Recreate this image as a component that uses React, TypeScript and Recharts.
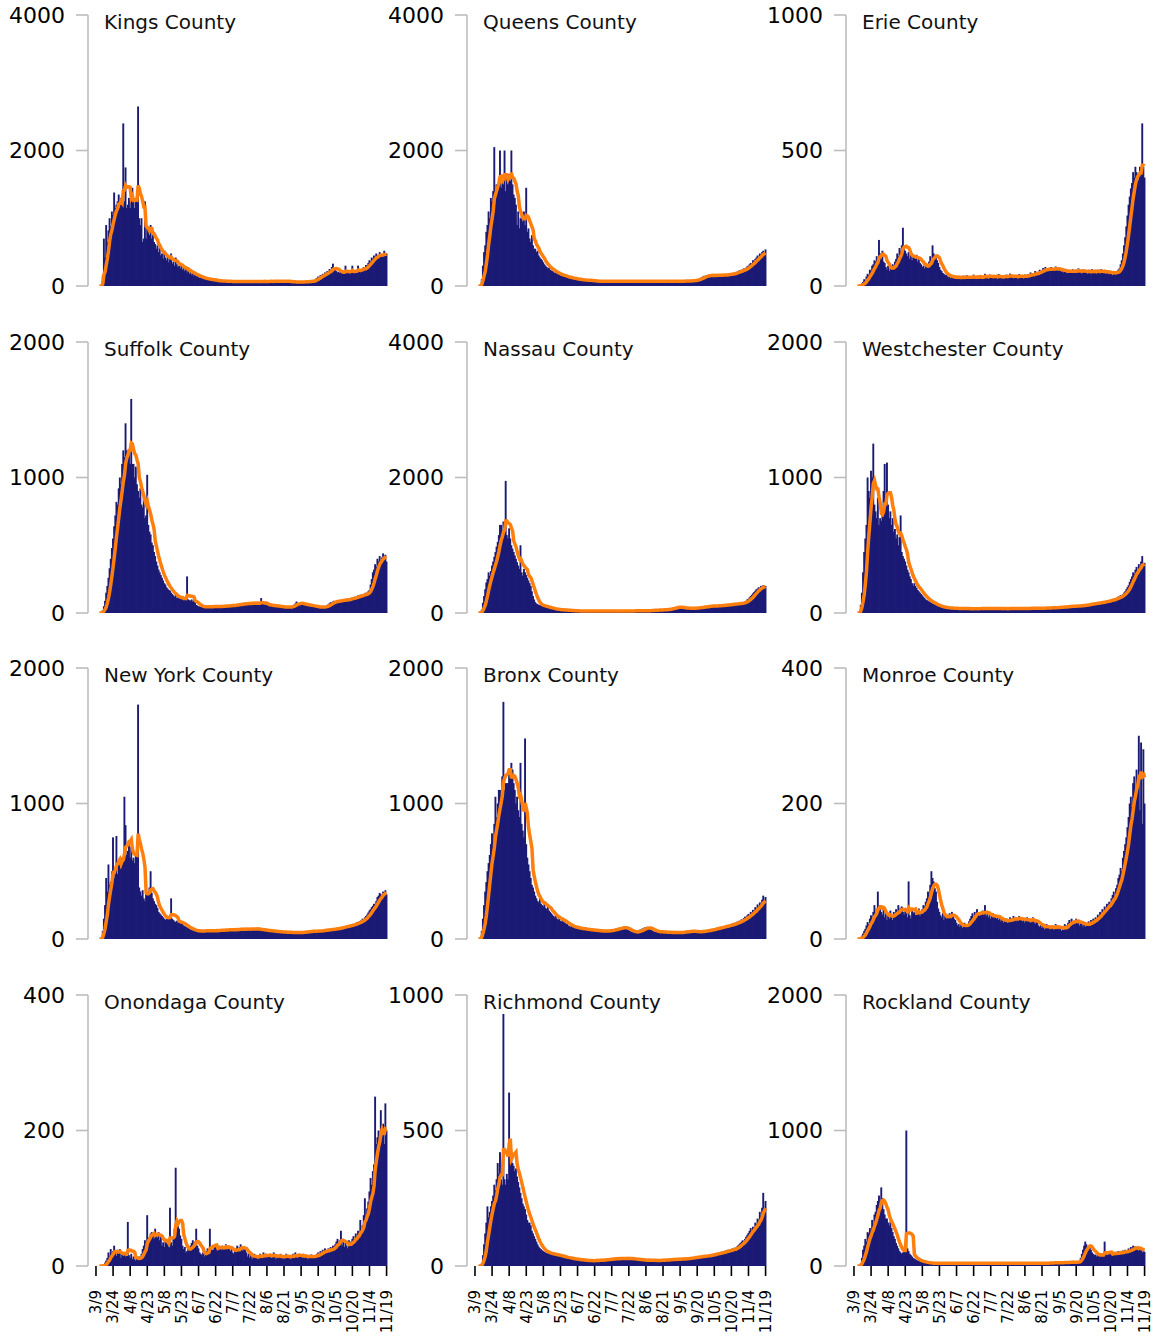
import React from 'react';
import { ComposedChart, Bar, Line, XAxis, YAxis } from 'recharts';

// ---------- labels & meta ----------
const axisStartDate = '3/2';
const firstDataDate = '3/12';
const xTickLabels = ['3/9', '3/24', '4/8', '4/23', '5/8', '5/23', '6/7', '6/22', '7/7', '7/22', '8/6', '8/21', '9/5', '9/20', '10/5', '10/20', '11/4', '11/19'];
const axisEndDate = '11/22';

const countyNames = [
  'Kings County', 'Queens County', 'Erie County',
  'Suffolk County', 'Nassau County', 'Westchester County',
  'New York County', 'Bronx County', 'Monroe County',
  'Onondaga County', 'Richmond County', 'Rockland County',
];
const yMaxima = [4000, 4000, 1000, 2000, 4000, 2000, 2000, 2000, 400, 400, 1000, 2000];

// ---------- daily new cases, 3/12 .. 11/19 ----------
const kings = [
  0, 0, 0, 150, 700, 420, 900, 650, 820, 1000,
  880, 1100, 1050, 1380, 1150, 1200, 1250, 1350, 1150, 1300,
  1200, 2400, 1250, 1750, 1150, 1200, 1300, 1150, 1280, 1450,
  1300, 1150, 1300, 1250, 2650, 1000, 900, 1000, 650, 700,
  1250, 700, 850, 800, 750, 900, 700, 750, 650, 620,
  550, 600, 500, 560, 450, 480, 400, 520, 420, 380,
  450, 350, 400, 480, 330, 360, 300, 420, 320, 280,
  300, 260, 330, 240, 290, 220, 250, 200, 260, 180,
  210, 170, 190, 150, 180, 140, 160, 130, 120, 140,
  110, 120, 100, 115, 95, 105, 90, 100, 85, 95,
  80, 90, 75, 85, 70, 80, 65, 75, 70, 80,
  65, 75, 70, 60, 75, 65, 70, 60, 72, 68,
  60, 70, 65, 75, 60, 68, 72, 62, 70, 65,
  70, 62, 75, 68, 60, 72, 65, 70, 60, 68,
  72, 65, 70, 62, 75, 68, 60, 70, 65, 72,
  68, 75, 62, 70, 80, 65, 72, 68, 75, 62,
  70, 80, 72, 65, 75, 60, 68, 62, 58, 65,
  55, 62, 58, 65, 52, 60, 55, 62, 58, 65,
  60, 68, 62, 70, 65, 72, 68, 75, 80, 90,
  110, 120, 140, 130, 160, 150, 180, 170, 200, 190,
  220, 210, 250, 230, 280, 330, 250, 240, 220, 200,
  210, 190, 230, 200, 180, 220, 300, 190, 210, 200,
  180, 220, 300, 200, 190, 230, 210, 300, 220, 240,
  250, 230, 280, 260, 310, 300, 340, 380, 360, 420,
  400, 450, 420, 480, 430, 460, 500, 440, 470, 430,
  520, 450, 480,
];

const queens = [
  0, 0, 0, 100, 300, 500, 600, 800, 900, 1100,
  1000, 1300, 1250, 1400, 2050, 1350, 1500, 1400, 1600, 2000,
  1450, 1550, 1500, 2000, 1400, 1600, 1500, 1650, 1550, 2000,
  1500, 1350, 1300, 1200, 900, 1100, 850, 1000, 1050, 950,
  1100, 900, 1450, 800, 850, 700, 650, 750, 600, 550,
  550, 500, 520, 450, 420, 400, 380, 350, 320, 300,
  280, 260, 270, 240, 230, 220, 210, 190, 200, 180,
  170, 175, 155, 160, 145, 150, 135, 140, 125, 120,
  120, 115, 118, 108, 110, 100, 104, 95, 98, 90,
  92, 88, 85, 90, 84, 80, 86, 82, 78, 84,
  72, 75, 68, 74, 70, 72, 66, 75, 70, 68,
  72, 68, 75, 70, 66, 74, 70, 72, 68, 75,
  70, 66, 72, 68, 74, 70, 65, 72, 70, 68,
  74, 70, 66, 72, 68, 75, 70, 67, 72, 70,
  68, 74, 70, 65, 72, 70, 68, 75, 70, 66,
  72, 70, 68, 74, 70, 66, 72, 68, 70, 74,
  70, 66, 72, 70, 68, 75, 70, 65, 72, 70,
  68, 74, 70, 66, 72, 70, 68, 75, 72, 70,
  74, 70, 76, 72, 78, 75, 80, 76, 82, 80,
  85, 90, 95, 100, 110, 120, 130, 140, 150, 145,
  160, 150, 165, 140, 170, 155, 160, 145, 175, 150,
  160, 155, 170, 150, 165, 160, 175, 155, 170, 165,
  180, 170, 190, 175, 185, 200, 195, 210, 220, 230,
  220, 240, 230, 260, 250, 270, 290, 300, 320, 340,
  330, 380, 360, 400, 420, 450, 430, 480, 460, 500,
  520, 480, 540,
];

const erie = [
  0, 0, 0, 5, 10, 15, 25, 20, 35, 45,
  40, 60, 55, 75, 80, 95, 90, 110, 100, 170,
  120, 100, 130, 90, 85, 70, 60, 75, 55, 65,
  60, 80, 70, 90, 100, 120, 110, 140, 130, 150,
  215, 140, 130, 120, 110, 125, 100, 115, 95, 110,
  110, 100, 115, 90, 105, 85, 80, 70, 75, 65,
  80, 70, 75, 90, 110, 95, 150, 120, 100, 110,
  95, 85, 70, 60, 55, 48, 45, 40, 42, 36,
  32, 40, 28, 35, 30, 38, 26, 34, 30, 36,
  28, 35, 30, 38, 25, 32, 40, 28, 34, 30,
  36, 28, 42, 30, 34, 26, 38, 32, 40, 28,
  35, 30, 45, 32, 38, 28, 42, 34, 30, 36,
  40, 32, 36, 28, 44, 34, 30, 38, 26, 40,
  35, 42, 30, 38, 46, 32, 36, 28, 40, 34,
  38, 30, 44, 36, 32, 40, 28, 42, 34, 38,
  44, 36, 50, 40, 46, 38, 55, 45, 52, 48,
  60, 50, 58, 66, 55, 70, 62, 58, 65, 55,
  70, 60, 66, 58, 72, 62, 55, 68, 60, 52,
  58, 50, 62, 54, 48, 60, 52, 56, 50, 62,
  55, 48, 60, 52, 65, 50, 58, 46, 62, 54,
  50, 58, 45, 60, 52, 48, 62, 55, 50, 58,
  46, 60, 54, 50, 62, 48, 56, 52, 45, 58,
  50, 44, 56, 48, 40, 52, 46, 55, 50, 60,
  65, 80, 95, 120, 150, 180, 220, 260, 300, 330,
  360, 380, 420, 400, 440, 420, 410, 390, 440, 420,
  600, 440, 400,
];

const suffolk = [
  0, 0, 0, 20, 50, 90, 150, 200, 260, 330,
  400, 480, 550, 640, 720, 820, 800, 920, 1000, 950,
  1100, 1200, 1150, 1400, 1200, 1150, 1200, 1100, 1580, 1100,
  1100, 1000, 1080, 950, 900, 850, 920, 800, 780, 850,
  700, 720, 1020, 650, 600, 580, 520, 500, 450, 420,
  380, 350, 320, 300, 280, 260, 240, 220, 210, 190,
  180, 170, 165, 150, 140, 130, 120, 135, 110, 115,
  105, 110, 100, 120, 95, 110, 105, 270, 100, 95,
  90, 100, 85, 95, 80, 60, 55, 50, 48, 45,
  50, 44, 48, 42, 46, 50, 44, 48, 45, 50,
  46, 52, 48, 44, 50, 46, 52, 48, 50, 55,
  48, 52, 56, 50, 54, 58, 52, 60, 55, 62,
  58, 64, 60, 66, 70, 62, 68, 75, 65, 72,
  70, 78, 66, 74, 70, 80, 68, 76, 72, 70,
  68, 74, 110, 66, 70, 64, 60, 58, 62, 55,
  58, 52, 56, 50, 54, 48, 52, 46, 50, 44,
  48, 42, 46, 40, 44, 42, 48, 44, 50, 46,
  55, 62, 70, 85, 75, 68, 72, 66, 70, 62,
  60, 64, 58, 55, 60, 52, 56, 50, 48, 46,
  44, 48, 42, 46, 40, 44, 48, 42, 46, 50,
  58, 65, 72, 80, 75, 85, 90, 82, 88, 92,
  86, 95, 90, 98, 92, 100, 94, 105, 98, 102,
  110, 104, 115, 108, 120, 112, 125, 130, 122, 135,
  128, 140, 132, 145, 150, 138, 160, 170, 210, 250,
  300, 320, 360, 340, 400, 380, 420, 390, 410, 440,
  400, 430, 380,
];

const nassau = [
  0, 0, 0, 50, 150, 250, 350, 450, 500, 600,
  550, 620, 700, 760, 830, 900, 980, 1050, 1150, 1300,
  1300, 1200, 1350, 1250, 1950, 1150, 1100, 1250, 1100, 1000,
  950, 900, 850, 800, 750, 700, 650, 1000, 600, 550,
  650, 600, 560, 520, 480, 440, 400, 320, 250, 200,
  160, 140, 130, 120, 115, 110, 105, 100, 95, 90,
  85, 80, 75, 72, 68, 64, 60, 56, 52, 50,
  48, 46, 50, 44, 42, 45, 40, 38, 42, 36,
  38, 34, 36, 32, 34, 30, 32, 28, 30, 28,
  30, 28, 32, 26, 30, 28, 32, 30, 26, 28,
  30, 32, 28, 26, 30, 28, 32, 30, 28, 26,
  30, 28, 32, 30, 26, 28, 30, 32, 28, 30,
  28, 32, 30, 26, 30, 28, 32, 30, 28, 34,
  30, 28, 32, 30, 34, 28, 32, 30, 36, 32,
  34, 30, 36, 32, 38, 34, 30, 36, 32, 38,
  34, 40, 36, 42, 38, 44, 40, 46, 42, 48,
  44, 50, 46, 52, 48, 56, 52, 60, 56, 64,
  70, 80, 75, 90, 85, 95, 88, 82, 78, 74,
  70, 76, 72, 68, 74, 70, 66, 72, 68, 75,
  72, 78, 74, 82, 80, 88, 84, 92, 90, 96,
  94, 100, 98, 106, 102, 110, 104, 100, 108, 102,
  106, 112, 108, 116, 110, 118, 114, 122, 118, 126,
  122, 130, 126, 134, 130, 140, 136, 145, 138, 142,
  140, 150, 145, 160, 170, 180, 200, 210, 230, 250,
  270, 290, 310, 330, 350, 360, 380, 370, 400, 390,
  410, 380, 400,
];

const westchester = [
  0, 0, 0, 60, 150, 300, 450, 550, 650, 1000,
  900, 850, 1050, 1000, 1250, 800, 750, 700, 850, 650,
  700, 680, 750, 900, 1100, 850, 1110, 800, 700, 750,
  650, 700, 600, 620, 550, 580, 500, 560, 720, 450,
  420, 400, 380, 350, 320, 300, 270, 250, 220, 200,
  220, 200, 185, 170, 160, 150, 140, 130, 120, 110,
  100, 95, 90, 85, 80, 75, 70, 66, 62, 58,
  52, 50, 48, 46, 44, 42, 40, 38, 40, 36,
  38, 35, 36, 34, 35, 32, 34, 33, 35, 32,
  34, 32, 36, 30, 34, 32, 35, 30, 33, 31,
  34, 30, 32, 35, 31, 33, 30, 34, 32, 36,
  33, 30, 35, 32, 34, 30, 33, 36, 31, 34,
  32, 35, 30, 33, 36, 31, 34, 32, 30, 35,
  33, 31, 34, 30, 35, 32, 34, 31, 33, 36,
  32, 34, 30, 35, 33, 31, 34, 32, 36, 33,
  35, 32, 34, 37, 33, 36, 34, 38, 35, 37,
  34, 37, 33, 36, 38, 35, 39, 36, 40, 37,
  38, 41, 37, 40, 43, 39, 42, 45, 41, 44,
  42, 46, 44, 48, 45, 50, 47, 52, 49, 54,
  48, 52, 50, 54, 51, 56, 53, 58, 55, 60,
  58, 62, 60, 66, 64, 70, 67, 72, 70, 75,
  70, 76, 74, 80, 78, 84, 80, 88, 85, 92,
  88, 95, 92, 100, 104, 98, 110, 106, 115, 120,
  125, 132, 128, 140, 150, 160, 175, 190, 205, 230,
  250, 270, 300, 290, 320, 340, 310, 360, 340, 380,
  420, 350, 370,
];

const newYork = [
  0, 0, 0, 60, 150, 250, 450, 350, 550, 400,
  420, 500, 750, 450, 520, 760, 480, 550, 600, 520,
  600, 580, 1050, 840, 620, 650, 700, 600, 680, 580,
  600, 560, 620, 680, 1730, 380, 350, 320, 360, 300,
  280, 400, 330, 350, 380, 500, 340, 300, 280, 260,
  250, 230, 200, 190, 180, 170, 160, 150, 140, 150,
  160, 170, 180, 300, 150, 140, 130, 125, 135, 120,
  130, 115, 120, 110, 100, 95, 90, 85, 80, 75,
  70, 68, 65, 62, 60, 58, 62, 56, 60, 58,
  62, 58, 60, 64, 58, 62, 60, 66, 62, 58,
  60, 64, 62, 66, 60, 68, 64, 62, 70, 66,
  64, 68, 70, 66, 72, 68, 64, 70, 74, 68,
  72, 68, 74, 70, 76, 72, 68, 74, 78, 72,
  76, 72, 70, 78, 74, 80, 72, 76, 70, 74,
  68, 72, 66, 70, 64, 62, 66, 60, 64, 58,
  62, 56, 60, 54, 58, 52, 56, 50, 54, 52,
  50, 54, 48, 52, 50, 46, 52, 48, 50, 46,
  48, 52, 46, 50, 48, 44, 50, 48, 52, 50,
  54, 50, 56, 52, 58, 54, 60, 56, 62, 58,
  56, 60, 58, 62, 60, 64, 62, 66, 64, 70,
  66, 72, 68, 74, 70, 76, 72, 78, 74, 80,
  80, 86, 82, 90, 88, 94, 92, 98, 95, 102,
  100, 108, 104, 112, 110, 118, 124, 120, 130, 128,
  140, 150, 145, 160, 170, 180, 195, 210, 220, 235,
  245, 260, 255, 280, 310, 320, 340, 330, 320, 350,
  340, 360, 330,
];

const bronx = [
  0, 0, 0, 60, 150, 250, 350, 420, 500, 560,
  620, 700, 780, 720, 850, 1050, 900, 1000, 1100, 1100,
  1050, 1200, 1750, 1100, 1150, 1150, 1150, 1250, 1200, 1300,
  1250, 1150, 1100, 1000, 1050, 950, 900, 1300, 850, 800,
  750, 1480, 700, 600, 550, 500, 450, 400, 380, 350,
  320, 300, 280, 270, 300, 260, 250, 240, 280, 230,
  220, 250, 210, 200, 190, 180, 170, 160, 175, 150,
  140, 160, 135, 130, 145, 125, 120, 110, 115, 100,
  95, 90, 100, 85, 88, 80, 84, 78, 82, 75,
  78, 72, 76, 70, 74, 68, 72, 66, 70, 64,
  68, 62, 66, 60, 64, 58, 62, 56, 60, 58,
  62, 56, 60, 58, 64, 60, 66, 62, 70, 66,
  72, 78, 74, 82, 78, 86, 82, 90, 86, 80,
  76, 70, 65, 60, 55, 50, 52, 48, 54, 50,
  56, 62, 70, 66, 78, 74, 86, 82, 90, 84,
  78, 72, 66, 60, 56, 52, 58, 54, 50, 56,
  52, 48, 54, 50, 46, 52, 48, 50, 46, 52,
  48, 50, 46, 52, 48, 44, 50, 46, 52, 48,
  54, 50, 56, 52, 58, 54, 60, 56, 62, 58,
  50, 54, 48, 56, 52, 58, 54, 60, 56, 64,
  60, 66, 62, 70, 66, 74, 70, 78, 74, 82,
  80, 86, 82, 90, 88, 95, 92, 98, 96, 104,
  100, 108, 104, 115, 110, 120, 116, 128, 124, 135,
  130, 145, 140, 155, 165, 150, 175, 185, 170, 200,
  190, 215, 205, 235, 225, 255, 240, 270, 260, 290,
  320, 280, 310,
];

const monroe = [
  0, 0, 0, 2, 5, 8, 12, 15, 20, 25,
  22, 30, 35, 28, 40, 50, 38, 45, 70, 42,
  48, 40, 36, 45, 32, 38, 28, 34, 30, 42,
  35, 28, 40, 36, 44, 38, 50, 42, 46, 48,
  40, 36, 44, 38, 32, 85, 35, 30, 45, 38,
  40, 36, 42, 38, 45, 34, 40, 44, 50, 48,
  55, 60, 70, 65, 80, 100, 90, 85, 75, 70,
  55, 45, 40, 35, 32, 38, 28, 34, 30, 36,
  32, 38, 34, 40, 36, 30, 28, 24, 20, 22,
  18, 22, 16, 20, 24, 18, 22, 20, 26, 30,
  34, 38, 32, 40, 36, 44, 38, 34, 40, 36,
  42, 36, 50, 34, 38, 32, 36, 30, 34, 38,
  32, 36, 30, 34, 28, 32, 26, 30, 24, 28,
  26, 30, 24, 28, 32, 26, 30, 34, 28, 32,
  26, 30, 34, 28, 32, 26, 30, 24, 28, 32,
  26, 30, 24, 28, 32, 26, 22, 28, 24, 20,
  18, 22, 16, 20, 14, 18, 22, 16, 20, 14,
  16, 20, 14, 18, 22, 16, 20, 14, 18, 12,
  14, 18, 22, 16, 20, 24, 28, 22, 30, 26,
  26, 22, 30, 24, 28, 20, 26, 22, 18, 24,
  18, 24, 20, 26, 22, 28, 24, 30, 26, 32,
  30, 36, 34, 40, 38, 44, 42, 48, 45, 52,
  50, 55, 52, 60, 65, 70, 62, 75, 80, 90,
  95, 105, 100, 120, 130, 140, 150, 165, 180, 200,
  210, 195, 230, 240, 220, 250, 240, 300, 190, 290,
  170, 280, 200,
];

const onondaga = [
  0, 0, 0, 0, 2, 5, 8, 12, 20, 15,
  25, 18, 22, 30, 20, 15, 22, 18, 25, 12,
  20, 15, 18, 14, 18, 65, 16, 12, 18, 10,
  14, 10, 8, 12, 10, 14, 12, 18, 25, 30,
  38, 30, 75, 42, 36, 48, 50, 45, 40, 55,
  48, 42, 50, 38, 45, 30, 35, 28, 40, 40,
  32, 28, 86, 35, 30, 40, 55, 145, 70, 60,
  55, 45, 40, 30, 25, 28, 20, 22, 26, 24,
  30, 34, 38, 32, 36, 55, 30, 26, 20, 18,
  16, 20, 14, 18, 22, 26, 24, 55, 28, 24,
  24, 28, 32, 26, 22, 30, 28, 24, 30, 26,
  28, 32, 24, 30, 26, 22, 28, 20, 18, 22,
  26, 30, 24, 28, 32, 26, 22, 28, 24, 20,
  14, 18, 12, 16, 10, 14, 18, 12, 16, 10,
  14, 18, 12, 16, 20, 14, 18, 12, 16, 14,
  18, 12, 16, 20, 14, 10, 16, 12, 14, 18,
  12, 16, 10, 14, 18, 12, 16, 14, 10, 15,
  18, 14, 20, 16, 12, 18, 14, 16, 12, 18,
  12, 16, 14, 10, 15, 13, 17, 12, 16, 14,
  14, 18, 20, 16, 22, 18, 24, 20, 26, 22,
  22, 26, 20, 28, 24, 30, 26, 32, 36, 40,
  34, 38, 52, 30, 36, 28, 34, 30, 26, 38,
  32, 36, 40, 44, 38, 48, 42, 52, 46, 68,
  55, 60, 75, 100, 70, 85, 95, 110, 130, 120,
  140, 150, 250, 180, 190, 200, 170, 230, 190, 210,
  180, 240, 200,
];

const richmond = [
  0, 0, 0, 10, 40, 80, 120, 160, 220, 180,
  200, 220, 240, 260, 300, 280, 320, 380, 340, 420,
  320, 300, 930, 320, 300, 340, 320, 640, 440, 400,
  380, 370, 350, 360, 330, 310, 290, 270, 250, 230,
  220, 210, 190, 170, 160, 160, 150, 130, 120, 110,
  100, 90, 80, 72, 66, 62, 58, 55, 52, 50,
  48, 46, 50, 44, 42, 46, 40, 44, 38, 42,
  40, 36, 38, 34, 32, 35, 30, 33, 28, 30,
  28, 26, 30, 24, 27, 25, 22, 26, 24, 21,
  23, 20, 24, 19, 22, 18, 21, 20, 17, 22,
  19, 21, 18, 23, 20, 22, 19, 24, 21, 23,
  22, 25, 21, 26, 23, 27, 24, 28, 25, 29,
  26, 30, 27, 28, 25, 31, 28, 26, 30, 27,
  29, 26, 30, 27, 25, 28, 24, 27, 23, 26,
  22, 25, 21, 24, 20, 23, 19, 22, 21, 24,
  20, 23, 19, 22, 18, 21, 20, 23, 19, 22,
  21, 24, 20, 23, 22, 25, 21, 24, 23, 26,
  22, 25, 24, 27, 23, 26, 25, 28, 24, 27,
  26, 29, 25, 28, 30, 27, 31, 29, 33, 30,
  32, 35, 31, 34, 37, 33, 36, 39, 35, 38,
  36, 40, 38, 42, 39, 44, 41, 46, 43, 48,
  45, 50, 47, 52, 49, 55, 51, 57, 54, 60,
  56, 62, 58, 65, 61, 68, 64, 72, 76, 80,
  85, 90, 95, 88, 100, 108, 115, 122, 130, 140,
  130, 145, 140, 160, 155, 175, 170, 200, 185, 215,
  270, 210, 240,
];

const rockland = [
  0, 0, 0, 20, 60, 120, 150, 200, 180, 250,
  240, 280, 260, 340, 310, 380, 400, 450, 480, 520,
  460, 580, 500, 420, 380, 350, 350, 320, 300, 330,
  280, 250, 220, 200, 170, 150, 130, 110, 100, 90,
  100, 120, 150, 1000, 130, 110, 90, 80, 70, 60,
  55, 50, 45, 40, 38, 35, 32, 30, 28, 26,
  25, 24, 22, 20, 22, 20, 22, 18, 21, 19,
  20, 22, 18, 21, 19, 23, 20, 18, 22, 19,
  21, 18, 20, 22, 19, 17, 21, 20, 18, 22,
  19, 21, 18, 20, 22, 19, 17, 20, 21, 18,
  20, 22, 19, 21, 18, 20, 23, 19, 21, 20,
  18, 21, 19, 22, 20, 18, 21, 19, 22, 20,
  19, 21, 18, 20, 22, 19, 21, 20, 18, 21,
  20, 18, 22, 19, 21, 20, 18, 21, 19, 22,
  20, 19, 21, 18, 22, 20, 19, 21, 20, 18,
  21, 19, 22, 20, 18, 21, 19, 22, 20, 21,
  19, 22, 20, 21, 18, 22, 20, 24, 21, 23,
  22, 25, 23, 26, 24, 22, 27, 25, 23, 26,
  24, 27, 25, 28, 26, 30, 27, 29, 32, 28,
  22, 25, 28, 30, 35, 40, 60, 90, 120, 150,
  180, 160, 130, 140, 150, 120, 100, 90, 80, 85,
  70, 90, 75, 80, 95, 70, 85, 180, 90, 80,
  85, 100, 90, 95, 80, 105, 90, 100, 85, 110,
  95, 105, 90, 115, 100, 120, 105, 95, 130, 110,
  140, 120, 150, 130, 145, 125, 140, 110, 130, 120,
  100, 115, 105,
];

const countySeries = [kings, queens, erie, suffolk, nassau, westchester, newYork, bronx, monroe, onondaga, richmond, rockland];

// ---------- helpers ----------
const MONTH_START = [0, 31, 60, 91, 121, 152, 182, 213, 244, 274, 305, 335];
const dayOfYear = (label: string) => {
  const [m, d] = label.split('/').map(Number);
  return MONTH_START[m - 1] + d;
};
const dayIndex = (label: string) => dayOfYear(label) - dayOfYear(axisStartDate);

const tickDays = xTickLabels.map(dayIndex);
const domainEnd = dayIndex(axisEndDate);

// 7-day trailing average of the daily values
const buildRows = (values: number[]) => {
  const start = dayIndex(firstDataDate);
  return values.map((v, i) => {
    const lo = Math.max(0, i - 6);
    let s = 0;
    for (let k = lo; k <= i; k++) s += values[k];
    return { day: start + i, cases: v, avg: s / (i - lo + 1) };
  });
};

const FONT = "'DejaVu Sans', sans-serif";
const BAR_COLOR = '#1b1a74';
const LINE_COLOR = '#ff7f0e';
const SPINE_COLOR = '#bdbdbd';

const COL_X = [0, 379, 758];
const ROW_Y = [0, 327, 653, 980];
const Y_AXIS_W = 88;
const PLOT_W = 302;
const PLOT_H = 271;
const TOP_M = 15;
const BOTTOM_M = 16;
const RIGHT_M = 14;
const X_AXIS_H = 72;

const RotatedTick = (props: any) => {
  const { x, y, payload } = props;
  const idx = tickDays.indexOf(payload.value);
  const label = idx >= 0 ? xTickLabels[idx] : '';
  return (
    <text
      x={x}
      y={y}
      transform={`rotate(-90, ${x}, ${y})`}
      textAnchor="end"
      dy="0.36em"
      fontSize={15}
      fontFamily={FONT}
      fill="#000"
    >
      {label}
    </text>
  );
};

// Daily bar drawn slightly wider than its day slot so adjacent days merge into a solid area
const DayBar = (props: any) => {
  const { x, y, width, height } = props;
  if (!height || height <= 0) return null;
  const cx = x + width / 2;
  const w = 1.9;
  return <rect x={cx - w / 2} y={y} width={w} height={height} fill={BAR_COLOR} />;
};

const Panel = ({ idx }: { idx: number }) => {
  const row = Math.floor(idx / 3);
  const col = idx % 3;
  const isBottom = row === 3;
  const max = yMaxima[idx];
  const rows = buildRows(countySeries[idx]);
  const width = Y_AXIS_W + PLOT_W + RIGHT_M;
  const height = TOP_M + PLOT_H + (isBottom ? X_AXIS_H : BOTTOM_M);
  return (
    <div style={{ position: 'absolute', left: COL_X[col], top: ROW_Y[row], width, height }}>
      <ComposedChart
        width={width}
        height={height}
        data={rows}
        margin={{ top: TOP_M, right: RIGHT_M, left: 0, bottom: isBottom ? 0 : BOTTOM_M }}
        barCategoryGap={0}
        barGap={0}
      >
        <XAxis
          dataKey="day"
          type="number"
          domain={[0, domainEnd]}
          ticks={tickDays}
          interval={0}
          hide={!isBottom}
          height={isBottom ? X_AXIS_H : 0}
          axisLine={false}
          tickLine={{ stroke: '#000', strokeWidth: 1.6 }}
          tickSize={10}
          tickMargin={14}
          tick={<RotatedTick />}
          allowDataOverflow
        />
        <YAxis
          type="number"
          domain={[0, max]}
          ticks={[0, max / 2, max]}
          interval={0}
          width={Y_AXIS_W}
          axisLine={{ stroke: SPINE_COLOR, strokeWidth: 1.6 }}
          tickLine={{ stroke: SPINE_COLOR, strokeWidth: 1.6 }}
          tickSize={12}
          tickMargin={11}
          tick={{ fontSize: 22, fill: '#000', fontFamily: FONT }}
          allowDataOverflow
        />
        <Bar dataKey="cases" fill={BAR_COLOR} shape={<DayBar />} isAnimationActive={false} />
        <Line
          dataKey="avg"
          type="linear"
          stroke={LINE_COLOR}
          strokeWidth={3.5}
          dot={false}
          activeDot={false}
          isAnimationActive={false}
        />
      </ComposedChart>
      <svg
        width={width}
        height={40}
        style={{ position: 'absolute', left: 0, top: 0, pointerEvents: 'none' }}
      >
        <text x={Y_AXIS_W + 16} y={TOP_M + 14.3} fontSize={20} fontFamily={FONT} fill="#111">
          {countyNames[idx]}
        </text>
      </svg>
    </div>
  );
};

export default function App() {
  return (
    <div
      style={{
        position: 'absolute',
        left: 0,
        top: 0,
        width: 1163,
        height: 1338,
        background: '#fff',
        overflow: 'hidden',
      }}
    >
      {countyNames.map((_, i) => (
        <Panel key={i} idx={i} />
      ))}
    </div>
  );
}
